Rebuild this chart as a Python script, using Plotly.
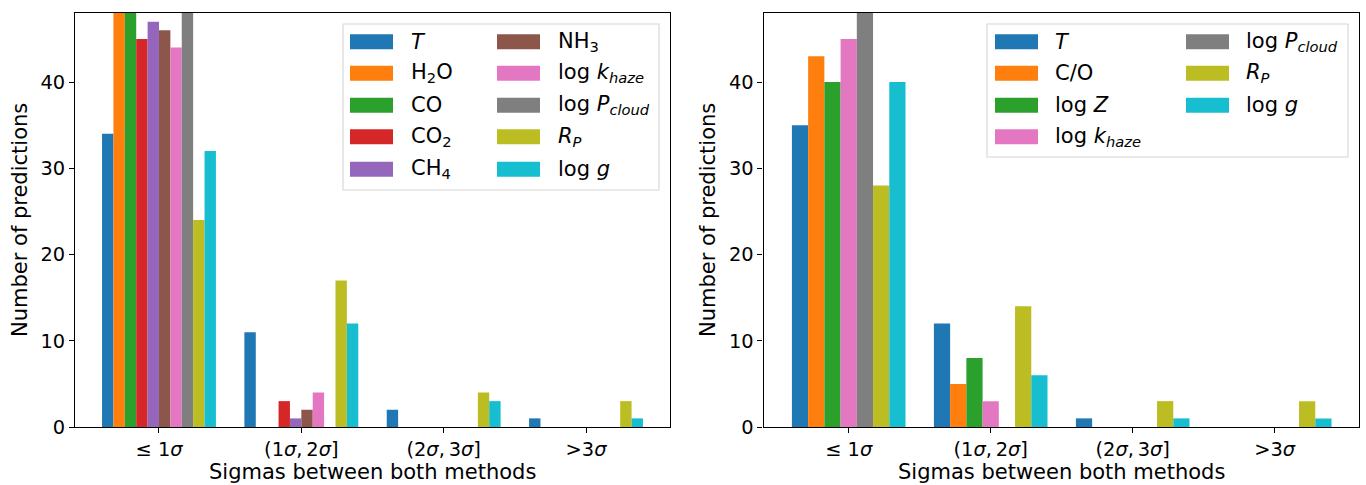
import plotly.graph_objects as go

# ---------------- data ----------------
categories = ["≤ 1<i>σ</i>", "(1<i>σ</i>,\u20092<i>σ</i>]", "(2<i>σ</i>,\u20093<i>σ</i>]", "&gt;3<i>σ</i>"]
y_ticks = [0, 10, 20, 30, 40]

# left panel
left_T = [34, 11, 2, 1]
left_H2O = [48, 0, 0, 0]
left_CO = [48, 0, 0, 0]
left_CO2 = [45, 3, 0, 0]
left_CH4 = [47, 1, 0, 0]
left_NH3 = [46, 2, 0, 0]
left_khaze = [44, 4, 0, 0]
left_Pcloud = [48, 0, 0, 0]
left_RP = [24, 17, 4, 3]
left_logg = [32, 12, 3, 1]

# right panel
right_T = [35, 12, 1, 0]
right_CO_ratio = [43, 5, 0, 0]
right_logZ = [40, 8, 0, 0]
right_khaze = [45, 3, 0, 0]
right_Pcloud = [48, 0, 0, 0]
right_RP = [28, 14, 3, 3]
right_logg = [40, 6, 1, 1]

# labels
lab_T = "<i>T</i>"
lab_H2O = "H<sub>2</sub>O"
lab_CO = "CO"
lab_CO2 = "CO<sub>2</sub>"
lab_CH4 = "CH<sub>4</sub>"
lab_NH3 = "NH<sub>3</sub>"
lab_khaze = "log <i>k<sub>haze</sub></i>"
lab_Pcloud = "log <i>P<sub>cloud</sub></i>"
lab_RP = "<i>R<sub>P</sub></i>"
lab_logg = "log <i>g</i>"
lab_COr = "C/O"
lab_logZ = "log <i>Z</i>"

C = {"blue": "#1f77b4", "orange": "#ff7f0e", "green": "#2ca02c", "red": "#d62728",
     "purple": "#9467bd", "brown": "#8c564b", "pink": "#e377c2", "gray": "#7f7f7f",
     "olive": "#bcbd22", "cyan": "#17becf"}

left_series = [
    (lab_T, left_T, C["blue"]), (lab_H2O, left_H2O, C["orange"]), (lab_CO, left_CO, C["green"]),
    (lab_CO2, left_CO2, C["red"]), (lab_CH4, left_CH4, C["purple"]), (lab_NH3, left_NH3, C["brown"]),
    (lab_khaze, left_khaze, C["pink"]), (lab_Pcloud, left_Pcloud, C["gray"]),
    (lab_RP, left_RP, C["olive"]), (lab_logg, left_logg, C["cyan"]),
]
right_series = [
    (lab_T, right_T, C["blue"]), (lab_COr, right_CO_ratio, C["orange"]), (lab_logZ, right_logZ, C["green"]),
    (lab_khaze, right_khaze, C["pink"]), (lab_Pcloud, right_Pcloud, C["gray"]),
    (lab_RP, right_RP, C["olive"]), (lab_logg, right_logg, C["cyan"]),
]

W, H = 1366, 485
MT, MB = 13, 58
PH = H - MT - MB
FONT = "DejaVu Sans"
FS_TICK = 19.4
FS_LAB = 21

def px(x):
    return x / W

def py(y):
    return (H - MB - y) / PH

fig = go.Figure()
xs = list(range(len(categories)))
for name, vals, col in left_series:
    fig.add_trace(go.Bar(x=xs, y=vals, name=name, marker=dict(color=col, line=dict(width=0)),
                         xaxis="x", yaxis="y", showlegend=False))
for name, vals, col in right_series:
    fig.add_trace(go.Bar(x=xs, y=vals, name=name, marker=dict(color=col, line=dict(width=0)),
                         xaxis="x2", yaxis="y2", showlegend=False))

axis_common = dict(showline=True, linecolor="black", linewidth=1.1, mirror=True,
                   ticks="outside", ticklen=5, tickwidth=1.1, tickcolor="black",
                   showgrid=False, zeroline=False, automargin=False,
                   tickfont=dict(family=FONT, size=FS_TICK, color="black"))

fig.update_layout(
    width=W, height=H, margin=dict(l=0, r=0, t=MT, b=MB),
    paper_bgcolor="white", plot_bgcolor="white",
    barmode="group", bargap=0.2, bargroupgap=0,
    font=dict(family=FONT, size=FS_TICK, color="black"),
    xaxis=dict(domain=[px(75), px(670)], range=[-0.59, 3.59], tickvals=xs, ticktext=categories,
               anchor="y", **axis_common),
    yaxis=dict(domain=[0, 1], range=[0, 48], tickvals=y_ticks, anchor="x", **axis_common),
    xaxis2=dict(domain=[px(763.5), px(1358.5)], range=[-0.6, 3.59], tickvals=xs, ticktext=categories,
                anchor="y2", **axis_common),
    yaxis2=dict(domain=[0, 1], range=[0, 48], tickvals=y_ticks, anchor="x2", **axis_common),
)

annotations = []
shapes = []

# axis titles
for cx in [(75 + 670) / 2, (763.5 + 1358.5) / 2]:
    annotations.append(dict(text="Sigmas between both methods", x=px(cx), y=py(472), xref="paper", yref="paper",
                            xanchor="center", yanchor="middle", showarrow=False,
                            font=dict(family=FONT, size=FS_LAB, color="black")))
for cx in [20, 708]:
    annotations.append(dict(text="Number of predictions", x=px(cx), y=py(220), xref="paper", yref="paper",
                            xanchor="center", yanchor="middle", showarrow=False, textangle=-90,
                            font=dict(family=FONT, size=FS_LAB, color="black")))

def legend(items, box, col_sw_x, col_tx_x, row_y, nrows):
    x0, y0, x1, y1 = box
    shapes.append(dict(type="rect", xref="paper", yref="paper", x0=px(x0), x1=px(x1), y0=py(y0), y1=py(y1),
                       line=dict(color="#d6d6d6", width=1.1), fillcolor="rgba(255,255,255,0.8)", layer="above"))
    for i, (name, _vals, col) in enumerate(items):
        c, r = divmod(i, nrows)
        sx = col_sw_x[c]
        yc = row_y[r]
        shapes.append(dict(type="rect", xref="paper", yref="paper", x0=px(sx), x1=px(sx + 43),
                           y0=py(yc - 7.5), y1=py(yc + 7.5), line=dict(width=0), fillcolor=col, layer="above"))
        annotations.append(dict(text=name, x=px(col_tx_x[c]), y=py(yc), xref="paper", yref="paper",
                                xanchor="left", yanchor="middle", showarrow=False,
                                font=dict(family=FONT, size=FS_LAB, color="black")))

legend(left_series, (343, 24, 659, 190), [350, 497], [409, 556], [41.7, 73.3, 105.3, 136.7, 169.3], 5)
legend(right_series, (987, 24, 1348, 157), [995, 1186], [1053, 1244], [41.7, 73.3, 105.3, 136.7], 4)

fig.update_layout(annotations=annotations, shapes=shapes)
fig.write_html("out.html")
